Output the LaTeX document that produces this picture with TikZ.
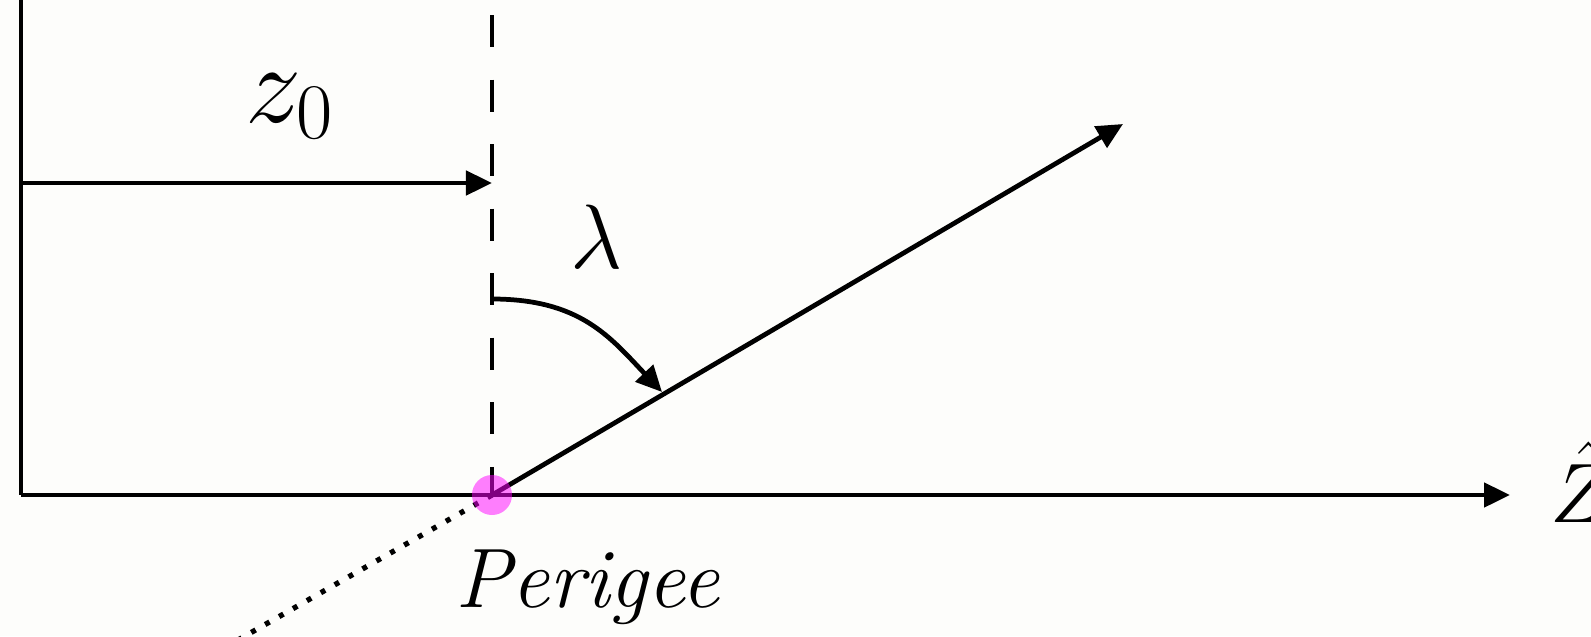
\RequirePackage{fix-cm}
\documentclass[tikz,border=0pt]{standalone}
\usepackage{fontspec}
\usepackage{amsmath}
\usepackage{amssymb}
\usepackage{xcolor}
\usetikzlibrary{arrows.meta}
\definecolor{paper}{RGB}{253,253,251}
\definecolor{perigeepink}{RGB}{255,0,255}

\begin{document}
\begin{tikzpicture}[x=0.01cm,y=-0.01cm,line width=1.35pt,
		tip/.style={-{Triangle[length=0.26cm,width=0.24cm]}},
		guide/.style={dash pattern=on 0.32cm off 0.325cm},
		orbit/.style={line width=1.5pt,dash pattern=on 0.05cm off 0.11cm},
		big/.style={font=\fontsize{32}{38}\selectfont}]
		\fill[paper] (0,0) rectangle (1591,636);
		\useasboundingbox (0,0) rectangle (1591,636);
		\coordinate (top) at (21,-5);
		\coordinate (origin) at (21,495);
		\coordinate (perigee) at (492,495);
		\coordinate (zend) at (1510,495);
		\coordinate (guidetop) at (492,15);
		\coordinate (zstart) at (23,183);
		\coordinate (zstop) at (492,183);
		\coordinate (rayend) at (1123,124);
		\coordinate (tail) at (238,640);
		\coordinate (arcstart) at (492,299);
		\coordinate (arcend) at (662,392);
		\draw (top) -- (origin);
		\draw[tip] (origin) -- (zend);
		\draw[guide] (guidetop) -- (perigee);
		\draw[tip] (zstart) -- (zstop);
		\draw[tip] (perigee) -- (rayend);
		\draw[tip] (arcstart) .. controls (580,299) and (610,337) .. (arcend);
		\draw[orbit] (perigee) -- (tail);
		\fill[perigeepink,opacity=0.5] (perigee) circle[radius=0.2cm];
		\node[big,anchor=base] (zlabel) at (290,122) {$z_0$};
		\node[font=\fontsize{26}{31}\selectfont,anchor=base] (lambdalabel) at (597,268) {$\lambda$};
		\node[font=\fontsize{24}{29}\selectfont,anchor=base] (perigeelabel) at (588,607) {\textit{Perigee}};
		\node[font=\fontsize{24}{29}\selectfont,anchor=base west,inner sep=0pt] (zhatlabel) at (1548,522) {$\hat{Z}$};
	\end{tikzpicture}
\end{document}
